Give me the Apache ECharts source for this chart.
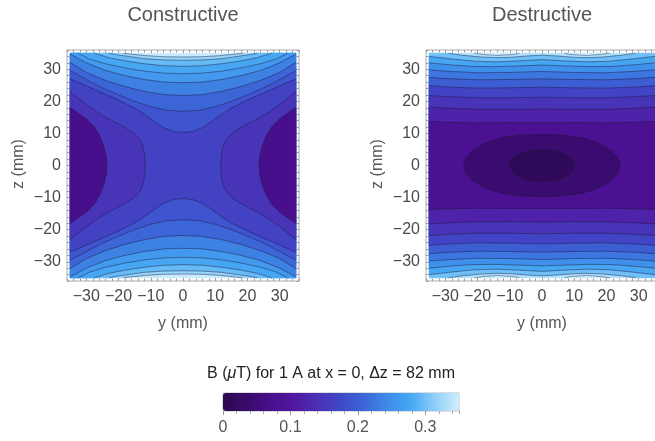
<!DOCTYPE html>
<html><head><meta charset="utf-8">
<script src="https://cdn.jsdelivr.net/npm/echarts@6/dist/echarts.min.js"></script>
<style>html,body{margin:0;padding:0;background:#fff}#c{width:655px;height:441px}</style>
</head><body><div id="c"></div><script>
// ---------- values ----------
const axisTicks = [-30, -20, -10, 0, 10, 20, 30];          // mm
const colorbarTicks = [0, 0.1, 0.2, 0.3];                  // μT
const colorScale = ['#2b0a4e','#380b6a','#480f8c','#5117a0','#4a30b4','#3f49c8','#3c66d8','#3e8ce8','#47aaf4','#90cff9','#d0efff'];

// Contour paths (y, z in mm), upper-right quadrant; plots are symmetric in y and z.
// Constructive
const consFull = [[0,35],[35,35]];
const consC8 = [[0,33.8],[6,33.9],[11,34.2],[15,34.6],[18.5,35],[35,35]];
const consC7 = [[0,32.8],[6,32.9],[12,33.3],[17,34.0],[21,34.6],[23,35],[35,35]];
const consC6 = [[0,30.9],[6,31.1],[12,31.7],[18,32.6],[23,33.6],[27.5,35],[35,35]];
const consC5 = [[0,28.6],[6,28.8],[12,29.4],[18,30.4],[24,31.7],[29,33.2],[32.5,35],[35,35]];
const consC4 = [[0,25.8],[6,26.0],[12,26.8],[18,28.0],[24,29.6],[30,32.0],[35,34.7]];
const consC3 = [[0,21.8],[6,22.1],[12,23.1],[18,24.6],[24,26.5],[30,29.0],[35,32.1]];
const consC2 = [[0,16.9],[5,17.2],[10,18.3],[15,20.0],[20,22.0],[25,24.2],[30,26.8],[35,29.5]];
const consC1 = [[0,10.3],[3,10.6],[6,11.8],[9,13.8],[12,16.0],[15,17.9],[20,20.4],[25,22.6],[30,24.8],[35,27.0]];
const consC0 = [[35,23.0],[33,21.4],[30,19.0],[27,16.9],[24,15.0],[20.5,13.2],[17.7,11.7],[15.4,10.2],[13.6,8.4],[12.4,6.0],[11.9,3.0],[11.7,0]];
const consCm1 = [[35,18.0],[32.5,16.3],[29.8,14.3],[27.5,12.0],[25.8,9.0],[24.6,6.0],[23.9,3.0],[23.6,0]];
const consKinds = ['strip','strip','strip','strip','strip','strip','strip','strip','strip','lobe','lobe'];
const consValues = [0.345, 0.32, 0.295, 0.275, 0.26, 0.235, 0.21, 0.19, 0.165, 0.145, 0.07];

// Destructive
const destFull = [[0,35],[35,35]];
const destCap = [[7,35],[9,34.6],[14,34.3],[18,34.6],[21,35]];
const destC10 = [[0,34.4],[5,34.1],[10,33.7],[14,33.6],[19,33.8],[25,34.4],[29,35],[35,35]];
const destC9 = [[0,33.0],[7,32.6],[14,32.3],[21,32.5],[28,33.2],[35,34.0]];
const destC8 = [[0,31.3],[8,31.0],[15,30.8],[22,30.9],[30,31.5],[35,32.0]];
const destC7 = [[0,29.3],[10,29.0],[20,28.9],[30,29.4],[35,29.8]];
const destC6 = [[0,27.0],[10,26.8],[20,26.7],[30,27.1],[35,27.5]];
const destC5 = [[0,24.4],[10,24.2],[20,24.1],[30,24.5],[35,24.9]];
const destC4 = [[0,21.3],[10,21.1],[20,21.1],[30,21.5],[35,21.8]];
const destC3 = [[0,17.6],[10,17.5],[20,17.5],[30,17.9],[35,18.2]];
const destC2 = [[0,13.4],[10,13.4],[20,13.3],[30,13.5],[35,13.7]];
const destRing = [[24.3,0],[23.5,2.5],[21.5,4.6],[18,6.8],[13,8.5],[7,9.4],[0,9.7]];
const destCore = [[10,0],[9.4,1.7],[7.7,3.2],[5,4.3],[1.8,4.9],[0,5]];
const destKinds = ['strip','cap','strip','strip','strip','strip','strip','strip','strip','strip','strip','ellipse','ellipse'];
const destValues = [0.33, 0.35, 0.30, 0.275, 0.25, 0.225, 0.2, 0.17, 0.145, 0.12, 0.08, 0.04, 0.012];

const consPaths = [consFull, consC8, consC7, consC6, consC5, consC4, consC3, consC2, consC1, consC0, consCm1];
const destPaths = [destFull, destCap, destC10, destC9, destC8, destC7, destC6, destC5, destC4, destC3, destC2, destRing, destCore];

// ---------- geometry helpers (mirror quadrant paths) ----------
function flip(p, sy, sz) { return p.map(q => [sy * q[0], sz * q[1]]); }
function mirror(kind, path) {
  if (kind === 'strip') {
    const upper = flip(path, -1, 1).reverse().concat(path.slice(1));
    const lower = flip(upper, 1, -1).reverse();
    return { polys: [upper.concat(lower)], lines: [upper, lower] };
  }
  if (kind === 'lobe') {
    const right = path.concat(flip(path, 1, -1).reverse().slice(1));
    const left = flip(right, -1, 1);
    return { polys: [right, left], lines: [right, left] };
  }
  if (kind === 'ellipse') {
    const q2 = flip(path, -1, 1).reverse(), q3 = flip(path, -1, -1), q4 = flip(path, 1, -1).reverse();
    const ring = path.concat(q2.slice(1), q3.slice(1), q4.slice(1));
    return { polys: [ring], lines: [ring.concat([ring[0]])] };
  }
  const caps = [];
  [1, -1].forEach(sy => [1, -1].forEach(sz => caps.push(flip(path, sy, sz))));
  return { polys: caps, lines: caps };
}
function onBorder(a, b) {
  const E = 34.99;
  return (Math.abs(a[1]) >= E && Math.abs(b[1]) >= E && Math.sign(a[1]) === Math.sign(b[1])) ||
         (Math.abs(a[0]) >= E && Math.abs(b[0]) >= E && Math.sign(a[0]) === Math.sign(b[0]));
}
function splitLine(pts) {
  const out = []; let cur = [pts[0]];
  for (let i = 1; i < pts.length; i++) {
    if (onBorder(pts[i - 1], pts[i])) { if (cur.length > 1) out.push(cur); cur = [pts[i]]; }
    else cur.push(pts[i]);
  }
  if (cur.length > 1) out.push(cur);
  return out;
}
function fillRenderer(kinds, paths) {
  return function (params, api) {
    const g = mirror(kinds[params.dataIndex], paths[params.dataIndex]);
    const color = api.visual('color');
    return { type: 'group', children: g.polys.map(poly => ({
      type: 'polygon', shape: { points: poly.map(p => api.coord(p)) },
      style: { fill: color, stroke: color, lineWidth: 0.6 } })) };
  };
}
function lineRenderer(kinds, paths) {
  return function (params, api) {
    const g = mirror(kinds[params.dataIndex], paths[params.dataIndex]);
    const segs = [];
    g.lines.forEach(l => splitLine(l).forEach(s => segs.push(s)));
    return { type: 'group', children: segs.map(s => ({
      type: 'polyline', shape: { points: s.map(p => api.coord(p)) },
      style: { stroke: 'rgba(30,25,55,0.55)', lineWidth: 0.8, fill: null } })) };
  };
}

// ---------- axes ----------
const FONT = '"Liberation Sans", Arial, sans-serif';
const fmtMM = v => (v < 0 ? '\u2212' + (-v) : String(v));
function panelAxes(gridIndex, dim) {
  const base = { type: 'value', min: -36, max: 36, gridIndex: gridIndex, splitLine: { show: false },
                 axisLine: { show: false, onZero: false } };
  const pos = dim === 'x' ? ['bottom', 'top'] : ['left', 'right'];
  return [
    Object.assign({}, base, { position: pos[0],
      axisTick: { show: true, inside: true, length: 5, customValues: axisTicks, lineStyle: { color: '#8a8a8a' } },
      axisLabel: { show: true, customValues: axisTicks, formatter: fmtMM, color: '#4a4a4a', fontSize: 16,
                   fontFamily: FONT, margin: dim === 'x' ? 8 : 6 } }),
    Object.assign({}, base, { position: pos[0], interval: 2,
      axisTick: { show: true, inside: true, length: 2.5, lineStyle: { color: '#9a9a9a' } }, axisLabel: { show: false } }),
    Object.assign({}, base, { position: pos[1],
      axisTick: { show: true, inside: true, length: 5, customValues: axisTicks, lineStyle: { color: '#8a8a8a' } },
      axisLabel: { show: false } }),
    Object.assign({}, base, { position: pos[1], interval: 2,
      axisTick: { show: true, inside: true, length: 2.5, lineStyle: { color: '#9a9a9a' } }, axisLabel: { show: false } })
  ];
}
const xAxes = panelAxes(0, 'x').concat(panelAxes(1, 'x'), [
  { type: 'value', gridIndex: 2, min: 0, max: 0.35, interval: 0.02, position: 'bottom',
    axisLine: { show: false, onZero: false }, splitLine: { show: false },
    axisTick: { show: true, length: 3, lineStyle: { color: '#aaa' } }, axisLabel: { show: false } },
  { type: 'value', gridIndex: 2, min: 0, max: 0.35, position: 'bottom',
    axisLine: { show: false, onZero: false }, splitLine: { show: false },
    axisTick: { show: true, length: 4, customValues: colorbarTicks, lineStyle: { color: '#999' } },
    axisLabel: { show: true, customValues: colorbarTicks, formatter: v => String(Math.round(v * 10) / 10),
                 color: '#555', fontSize: 16, fontFamily: FONT, margin: 9 } }
]);
const yAxes = panelAxes(0, 'y').concat(panelAxes(1, 'y'), [
  { type: 'value', gridIndex: 2, min: 0, max: 1, show: false }
]);

const gridCommon = { show: true, borderColor: '#aaa', borderWidth: 1, backgroundColor: '#fff',
                     containLabel: false, outerBoundsMode: 'none' };

const chart = echarts.init(document.getElementById('c'), null, { renderer: 'canvas' });
chart.setOption({
  animation: false,
  backgroundColor: '#fff',
  grid: [
    Object.assign({ left: 67, top: 50, width: 232, height: 231 }, gridCommon),
    Object.assign({ left: 426, top: 50, width: 232, height: 231 }, gridCommon),
    { left: 223, top: 393, width: 236, height: 18, show: true, borderColor: '#bbb', borderWidth: 1,
      backgroundColor: 'transparent', outerBoundsMode: 'none' }
  ],
  xAxis: xAxes,
  yAxis: yAxes,
  visualMap: {
    type: 'continuous', min: 0, max: 0.35, dimension: 2, seriesIndex: [0, 2],
    orient: 'horizontal', left: 223, top: 393, itemWidth: 18, itemHeight: 236, padding: 0,
    calculable: false, show: true, inRange: { color: colorScale }, hoverLink: false
  },
  series: [
    { type: 'custom', xAxisIndex: 0, yAxisIndex: 0, clip: true, silent: true, z: 2,
      data: consValues.map((v, i) => [0, 0, v, i]), renderItem: fillRenderer(consKinds, consPaths) },
    { type: 'custom', xAxisIndex: 0, yAxisIndex: 0, clip: true, silent: true, z: 3,
      data: consValues.map((v, i) => [0, 0, v, i]), renderItem: lineRenderer(consKinds, consPaths) },
    { type: 'custom', xAxisIndex: 4, yAxisIndex: 4, clip: true, silent: true, z: 2,
      data: destValues.map((v, i) => [0, 0, v, i]), renderItem: fillRenderer(destKinds, destPaths) },
    { type: 'custom', xAxisIndex: 4, yAxisIndex: 4, clip: true, silent: true, z: 3,
      data: destValues.map((v, i) => [0, 0, v, i]), renderItem: lineRenderer(destKinds, destPaths) }
  ],
  graphic: [
    { type: 'text', x: 183, y: 15, style: { text: 'Constructive', fill: '#555', font: '20px ' + FONT,
      align: 'center', verticalAlign: 'middle', textAlign: 'center', textVerticalAlign: 'middle' } },
    { type: 'text', x: 542, y: 15, style: { text: 'Destructive', fill: '#555', font: '20px ' + FONT,
      align: 'center', verticalAlign: 'middle', textAlign: 'center', textVerticalAlign: 'middle' } },
    { type: 'text', x: 183, y: 324, style: { text: 'y (mm)', fill: '#555', font: '16px ' + FONT,
      align: 'center', verticalAlign: 'middle', textAlign: 'center', textVerticalAlign: 'middle' } },
    { type: 'text', x: 542, y: 324, style: { text: 'y (mm)', fill: '#555', font: '16px ' + FONT,
      align: 'center', verticalAlign: 'middle', textAlign: 'center', textVerticalAlign: 'middle' } },
    { type: 'text', x: 19, y: 164, rotation: Math.PI / 2, style: { text: 'z (mm)', fill: '#555', font: '16px ' + FONT,
      align: 'center', verticalAlign: 'middle', textAlign: 'center', textVerticalAlign: 'middle' } },
    { type: 'text', x: 378, y: 164, rotation: Math.PI / 2, style: { text: 'z (mm)', fill: '#555', font: '16px ' + FONT,
      align: 'center', verticalAlign: 'middle', textAlign: 'center', textVerticalAlign: 'middle' } },
    { type: 'text', x: 331, y: 374, style: { text: 'B ({i|\u03bc}T) for 1 A at x = 0, \u0394z = 82 mm', fill: '#222',
      font: '16px ' + FONT, align: 'center', verticalAlign: 'middle', textAlign: 'center', textVerticalAlign: 'middle',
      rich: { i: { fontStyle: 'italic', fontSize: 16, fontFamily: FONT, fill: '#222' } } } }
  ]
});
</script></body></html>
